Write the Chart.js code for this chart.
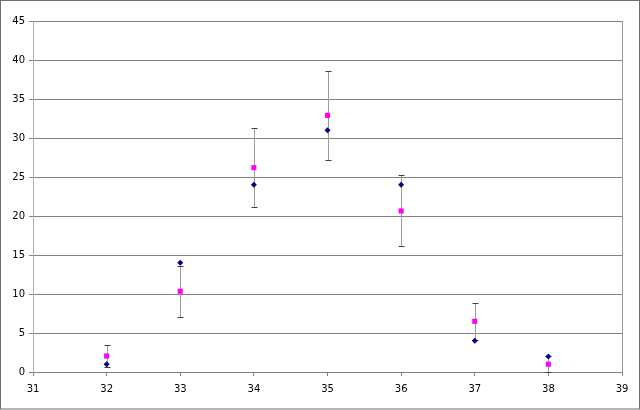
<!DOCTYPE html>
<html>
<head>
<meta charset="utf-8">
<script src="https://cdn.jsdelivr.net/npm/chart.js@4/dist/chart.umd.min.js"></script>
<style>
  html, body { margin: 0; padding: 0; background: #fff; }
  #wrap { width: 640px; height: 410px; }
</style>
</head>
<body>
<div id="wrap"><canvas id="chart" width="640" height="410"></canvas></div>
<script>
const xValues = [32, 33, 34, 35, 36, 37, 38];
const observed = [1, 14, 24, 31, 24, 4, 2];
const expected = [2.05, 10.35, 26.2, 32.9, 20.65, 6.5, 1.0];
const errors = [1.45, 3.25, 5.1, 5.7, 4.55, 2.4, 1.0];

const toPoints = ys => xValues.map((x, i) => ({ x, y: ys[i] }));

const frame = {
  id: 'frame',
  beforeDraw(chart) {
    const { ctx } = chart;
    ctx.save();
    ctx.fillStyle = '#fff';
    ctx.fillRect(0, 0, chart.width, chart.height);
    ctx.strokeStyle = '#6f6f6f';
    ctx.lineWidth = 1;
    ctx.strokeRect(0.5, 0.5, chart.width - 1, chart.height - 1.5);
    ctx.restore();
  },
  afterDraw(chart) {
    const { ctx, chartArea: a } = chart;
    ctx.save();
    ctx.strokeStyle = '#999';
    ctx.lineWidth = 1;
    ctx.beginPath();
    ctx.moveTo(Math.round(a.right) + 0.5, a.top);
    ctx.lineTo(Math.round(a.right) + 0.5, a.bottom);
    ctx.stroke();
    ctx.restore();
  }
};

// error bars on the expected series
const errorBars = {
  id: 'errorBars',
  beforeDatasetsDraw(chart) {
    const { ctx, scales: { x, y } } = chart;
    ctx.save();
    ctx.lineWidth = 1;
    xValues.forEach((v, i) => {
      const px = Math.round(x.getPixelForValue(v)) + 0.5;
      const top = Math.round(y.getPixelForValue(expected[i] + errors[i])) + 0.5;
      const bot = Math.round(y.getPixelForValue(Math.max(0, expected[i] - errors[i]))) + 0.5;
      ctx.strokeStyle = '#9a9a9a';
      ctx.beginPath();
      ctx.moveTo(px, top);
      ctx.lineTo(px, bot);
      ctx.stroke();
      ctx.strokeStyle = '#404040';
      ctx.beginPath();
      ctx.moveTo(px - 3, top);
      ctx.lineTo(px + 3, top);
      ctx.moveTo(px - 3, bot);
      ctx.lineTo(px + 3, bot);
      ctx.stroke();
    });
    ctx.restore();
  }
};

new Chart(document.getElementById('chart'), {
  type: 'scatter',
  data: {
    datasets: [
      {
        label: 'Expected',
        data: toPoints(expected),
        pointStyle: 'rect',
        pointRadius: 3.6,
        backgroundColor: '#ff00ff',
        borderColor: '#ff00ff',
        borderWidth: 0
      },
      {
        label: 'Observed',
        data: toPoints(observed),
        pointStyle: 'rectRot',
        pointRadius: 3,
        backgroundColor: '#000080',
        borderColor: '#000080',
        borderWidth: 0
      }
    ]
  },
  options: {
    responsive: false,
    animation: false,
    events: [],
    layout: { padding: { top: 21, right: 18, left: 0, bottom: 0 } },
    plugins: { legend: { display: false }, tooltip: { enabled: false } },
    scales: {
      x: {
        type: 'linear',
        min: 31,
        max: 39,
        ticks: { stepSize: 1, color: '#000', font: { family: 'DejaVu Sans', size: 10 }, padding: 7 },
        grid: { drawOnChartArea: false, tickLength: 4, color: '#808080' },
        border: { color: '#808080' },
        afterFit(s) { s.height = 38; }
      },
      y: {
        min: 0,
        max: 45,
        ticks: { stepSize: 5, color: '#000', font: { family: 'DejaVu Sans', size: 10 }, padding: 4 },
        grid: { color: '#808080', tickLength: 4 },
        border: { color: '#b0b0b0' },
        afterFit(s) { s.width = 33; }
      }
    }
  },
  plugins: [frame, errorBars]
});
</script>
</body>
</html>
